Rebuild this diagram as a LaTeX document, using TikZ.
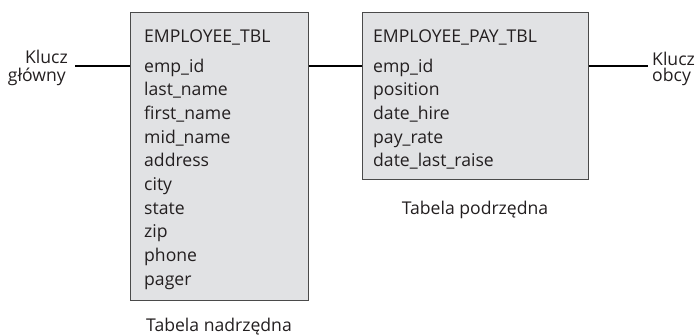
\documentclass[tikz,border=0pt]{standalone}
\usepackage{fontspec}
\setmainfont{Open Sans}
\definecolor{boxfill}{HTML}{E1E2E4}
\definecolor{boxline}{HTML}{4A4A4A}
\definecolor{txt}{HTML}{231F20}
\begin{document}
\begin{tikzpicture}[x=1pt,y=-1pt,
  tbl/.style={draw=boxline,fill=boxfill,line width=1.4pt,inner sep=0pt,anchor=north west},
  fld/.style={anchor=base west,inner sep=0pt,font=\fontsize{17.6}{18}\selectfont,text=txt},
  lbl/.style={inner sep=0pt,font=\fontsize{17.6}{18}\selectfont,text=txt},
  conn/.style={line width=2pt,black}]
\useasboundingbox (0,0) rectangle (700,335);
\node[tbl,minimum width=178pt,minimum height=288pt] (t1) at (130,12) {};
\node[tbl,minimum width=226pt,minimum height=167pt] (t2) at (362,12) {};
% table 1
\node[fld] (t1h) at (144,42) {EMPLOYEE\_TBL};
\foreach \n/\t [count=\i from 0] in {a/emp\_id,b/last\_name,c/first\_name,d/mid\_name,e/address,f/city,g/state,h/zip,k/phone,m/pager}
  \node[fld] (t1\n) at (144,72+23.7*\i) {\t};
% table 2
\node[fld] (t2h) at (373,42) {EMPLOYEE\_PAY\_TBL};
\foreach \n/\t [count=\i from 0] in {a/emp\_id,b/position,c/date\_hire,d/pay\_rate,e/date\_last\_raise}
  \node[fld] (t2\n) at (373,72+23.7*\i) {\t};
% labels
\node[lbl,anchor=base east] (pk1) at (68,63) {Klucz};
\node[lbl,anchor=base east] (pk2) at (66,81) {główny};
\node[lbl,anchor=base west] (fk1) at (652,65) {Klucz};
\node[lbl,anchor=base west] (fk2) at (652,81) {obcy};
\node[lbl,anchor=base] (c2) at (475,214) {Tabela podrzędna};
\node[lbl,anchor=base] (c1) at (219,331) {Tabela nadrzędna};
% connectors
\coordinate (l1) at (75,66);
\coordinate (r1) at (648,66);
\draw[conn] (l1) -- (l1 -| t1.west);
\draw[conn] (t1.east |- l1) -- (t2.west |- l1);
\draw[conn] (t2.east |- r1) -- (r1);
\end{tikzpicture}
\end{document}
